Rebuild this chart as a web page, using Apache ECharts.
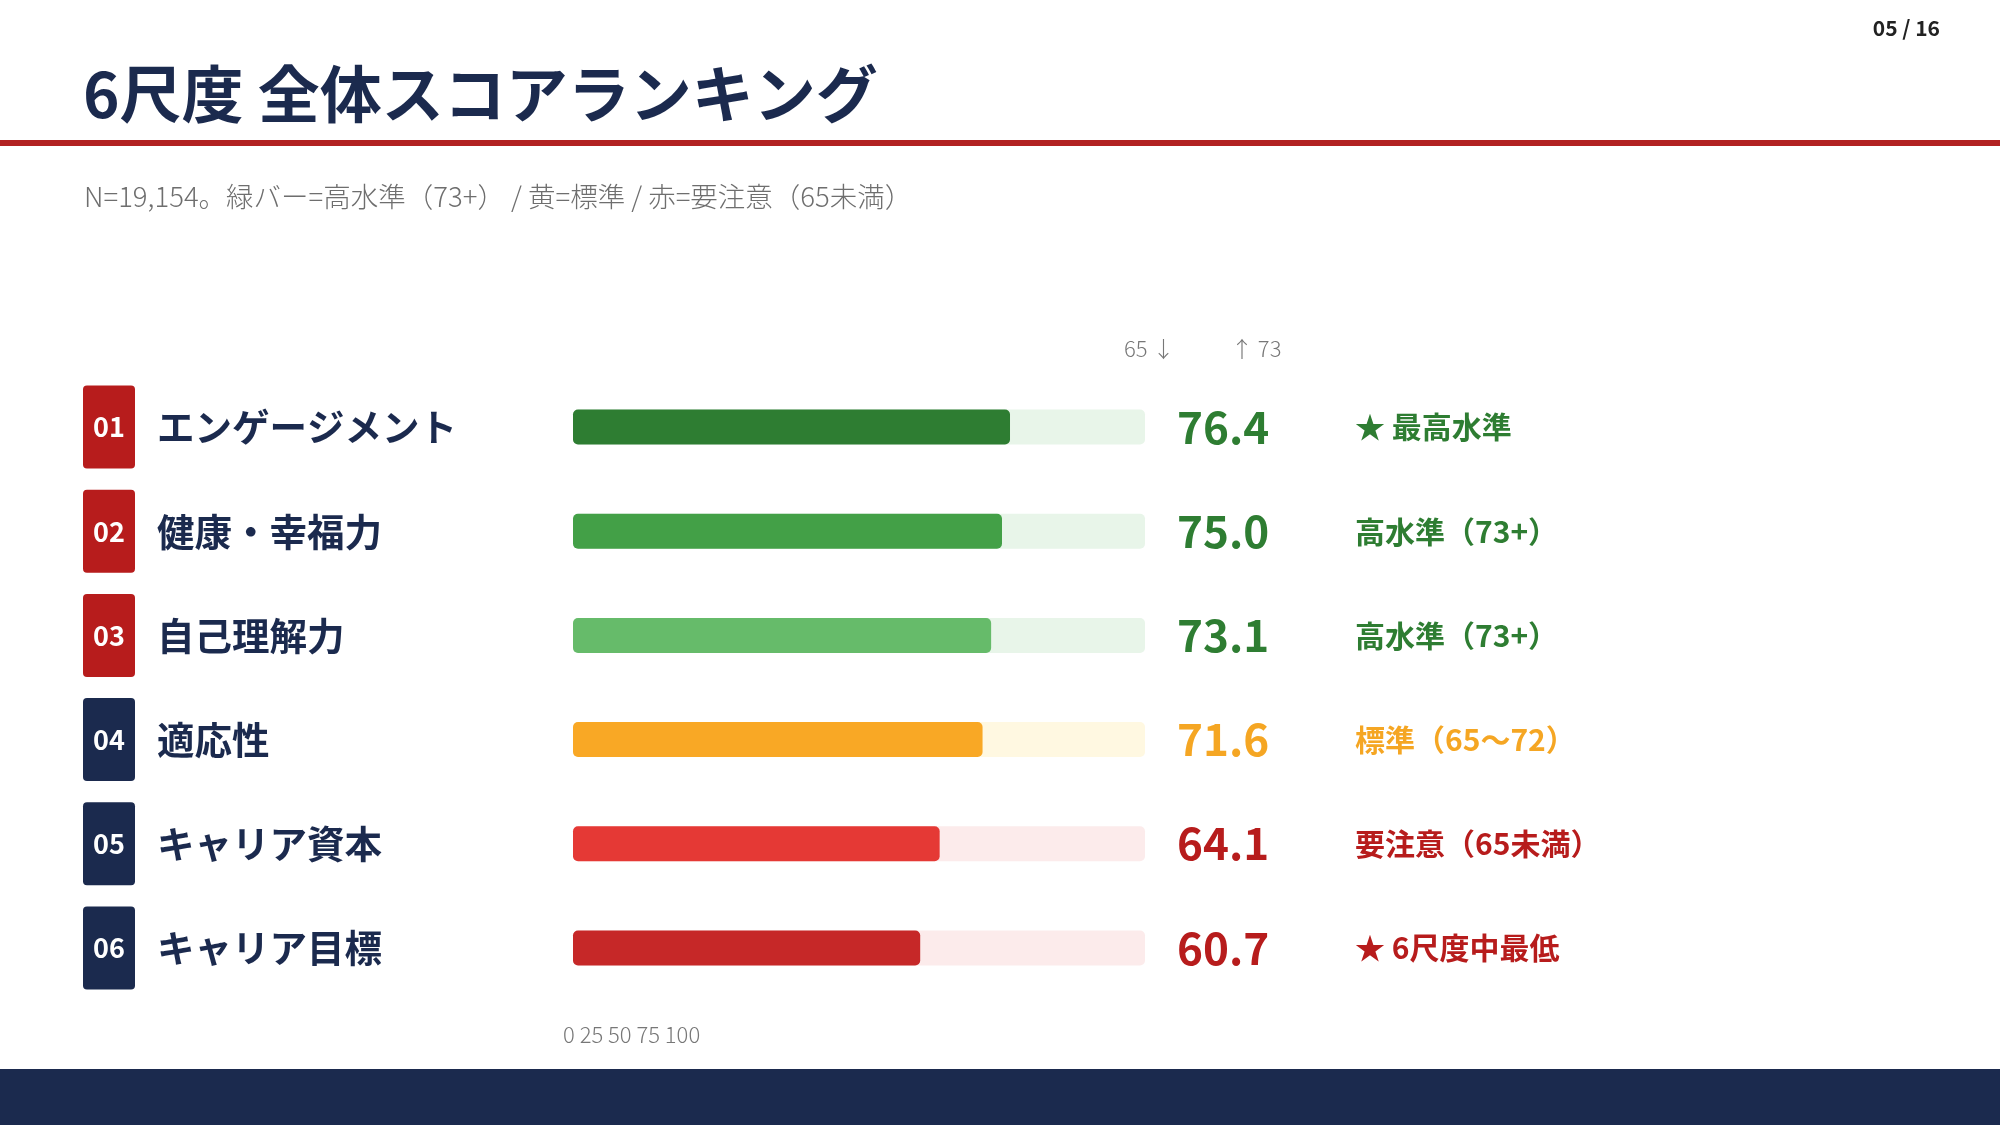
<!DOCTYPE html>
<html><head><meta charset="utf-8">
<script src="https://cdn.jsdelivr.net/npm/echarts@6/dist/echarts.min.js"></script>
<style>html,body{margin:0;padding:0;background:#fff}#c{width:2000px;height:1125px}</style>
</head><body><div id="c"></div>
<script>
const categories = ['エンゲージメント','健康・幸福力','自己理解力','適応性','キャリア資本','キャリア目標'];
const ranks = ['01','02','03','04','05','06'];
const scores = [76.4, 75.0, 73.1, 71.6, 64.1, 60.7];
const statusTexts = ['★ 最高水準','高水準（73+）','高水準（73+）','標準（65～72）','要注意（65未満）','★ 6尺度中最低'];
const levels = ['g','g','g','o','r','r'];
const badgeTypes = ['r','r','r','n','n','n'];
const trackMax = [100,100,100,100,100,100];
const tickLabels = ['0','25','50','75','100'];
const thresholdLabels = ['65 ↓','↑ 73'];

const FONT = '"Noto Sans CJK JP","Noto Sans",sans-serif';
const NAVY = '#1B2A4E';
const barColors = ['#2E7D32','#43A047','#66BB6A','#F9A825','#E53935','#C62828'];
const trackColors = ['#E8F5E9','#E8F5E9','#E8F5E9','#FFF8E1','#FCEBEB','#FCEBEB'];
const textColor = {g:'#2E7D32', o:'#F5A623', r:'#B71C1C'};

const rich = {
  br:{backgroundColor:'#B71C1C',color:'#fff',width:52,height:83,lineHeight:83,align:'center',borderRadius:4,fontSize:27,fontWeight:'bold',fontFamily:FONT},
  bn:{backgroundColor:NAVY,color:'#fff',width:52,height:83,lineHeight:83,align:'center',borderRadius:4,fontSize:27,fontWeight:'bold',fontFamily:FONT},
  t:{fontSize:37.5,fontWeight:'bold',color:NAVY,padding:[0,0,0,22],fontFamily:FONT}
};
const vrich = {};
['g','o','r'].forEach(k=>{
  vrich['v'+k] = {fontSize:44,fontWeight:'bold',color:textColor[k],width:178,fontFamily:FONT};
  vrich['s'+k] = {fontSize:30,fontWeight:'bold',color:textColor[k],fontFamily:FONT};
});

const chart = echarts.init(document.getElementById('c'));
chart.setOption({
  animation:false,
  backgroundColor:'#fff',
  grid:{left:573,right:855,top:375,height:625},
  xAxis:{type:'value',min:0,max:100,show:false},
  yAxis:{type:'category',inverse:true,data:categories,
    axisLine:{show:false},axisTick:{show:false},splitLine:{show:false},
    axisLabel:{align:'left',margin:490,rich:rich,
      formatter:(v,i)=>'{b'+badgeTypes[i]+'|'+ranks[i]+'}{t|'+v+'}'}},
  series:[
    {type:'bar',silent:true,barWidth:35,barGap:'-100%',
      data:trackMax.map((v,i)=>({value:v,itemStyle:{color:trackColors[i]}})),
      itemStyle:{borderRadius:5},
      label:{show:true,position:'right',distance:32,rich:vrich,
        formatter:p=>'{v'+levels[p.dataIndex]+'|'+scores[p.dataIndex].toFixed(1)+'}{s'+levels[p.dataIndex]+'|'+statusTexts[p.dataIndex]+'}'}},
    {type:'bar',barWidth:35,barGap:'-100%',
      data:scores.map((v,i)=>({value:v,itemStyle:{color:barColors[i]}})),
      itemStyle:{borderRadius:5}}
  ],
  graphic:[
    {type:'text',left:83,top:63,style:{text:'6尺度 全体スコアランキング',fontSize:62,fontWeight:'bold',fill:NAVY,fontFamily:FONT}},
    {type:'rect',left:0,top:140,shape:{width:2000,height:6},style:{fill:'#B22222'}},
    {type:'text',left:84,top:183,style:{text:'N=19,154。緑バー=高水準（73+） / 黄=標準 / 赤=要注意（65未満）',fontSize:27.5,fontWeight:300,fill:'#6E6E6E',fontFamily:FONT}},
    {type:'text',right:60,top:18,style:{text:'05 / 16',fontSize:21,fontWeight:'bold',fill:'#222',fontFamily:FONT}},
    {type:'text',left:1124,top:338,style:{text:thresholdLabels[0],fontSize:22,fontWeight:300,fill:'#777',fontFamily:FONT}},
    {type:'text',left:1231,top:338,style:{text:thresholdLabels[1],fontSize:22,fontWeight:300,fill:'#777',fontFamily:FONT}},
    {type:'text',left:563,top:1024,style:{text:tickLabels.join(' '),fontSize:22,fontWeight:300,fill:'#777',fontFamily:FONT}},
    {type:'rect',left:0,top:1069,shape:{width:2000,height:56},style:{fill:NAVY}}
  ]
});
</script></body></html>
